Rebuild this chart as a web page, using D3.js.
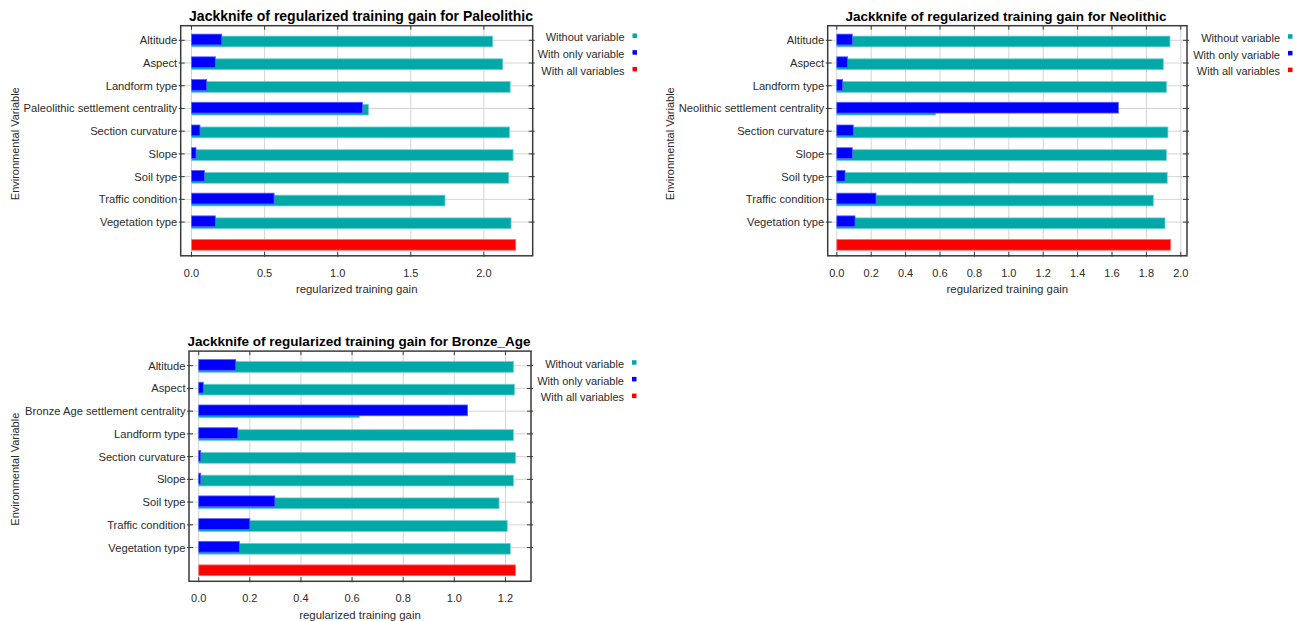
<!DOCTYPE html>
<html>
<head>
<meta charset="utf-8">
<script src="https://cdn.jsdelivr.net/npm/d3@7"></script>
<style>
  html, body { margin: 0; padding: 0; background: #ffffff; }
  svg { display: block; font-family: Arial, "Liberation Sans", sans-serif; }
</style>
</head>
<body>
<svg id="chart" width="1306" height="621"></svg>
<script>
// ---------------- data ----------------
const seriesNames = ["Without variable", "With only variable", "With all variables"];

const paleoTitle = "Jackknife of regularized training gain for Paleolithic";
const paleoVars = ["Altitude", "Aspect", "Landform type", "Paleolithic settlement centrality", "Section curvature", "Slope", "Soil type", "Traffic condition", "Vegetation type"];
const paleoWithout = [2.06, 2.129, 2.18, 1.21, 2.175, 2.20, 2.17, 1.734, 2.186];
const paleoOnly = [0.207, 0.163, 0.104, 1.17, 0.058, 0.031, 0.088, 0.565, 0.163];
const paleoAll = 2.218;
const paleoTicks = [0.0, 0.5, 1.0, 1.5, 2.0];

const neoTitle = "Jackknife of regularized training gain for Neolithic";
const neoVars = ["Altitude", "Aspect", "Landform type", "Neolithic settlement centrality", "Section curvature", "Slope", "Soil type", "Traffic condition", "Vegetation type"];
const neoWithout = [1.937, 1.898, 1.916, 0.575, 1.925, 1.916, 1.921, 1.84, 1.908];
const neoOnly = [0.09, 0.063, 0.034, 1.637, 0.096, 0.09, 0.048, 0.228, 0.106];
const neoAll = 1.941;
const neoTicks = [0.0, 0.2, 0.4, 0.6, 0.8, 1.0, 1.2, 1.4, 1.6, 1.8, 2.0];

const bronzeTitle = "Jackknife of regularized training gain for Bronze_Age";
const bronzeVars = ["Altitude", "Aspect", "Bronze Age settlement centrality", "Landform type", "Section curvature", "Slope", "Soil type", "Traffic condition", "Vegetation type"];
const bronzeWithout = [1.231, 1.235, 0.628, 1.231, 1.239, 1.231, 1.175, 1.207, 1.219];
const bronzeOnly = [0.145, 0.018, 1.052, 0.153, 0.008, 0.008, 0.298, 0.20, 0.159];
const bronzeAll = 1.239;
const bronzeTicks = [0.0, 0.2, 0.4, 0.6, 0.8, 1.0, 1.2];

const xLabel = "regularized training gain";
const yLabel = "Environmental Variable";

// ---------------- style ----------------
const COLORS = { without: "#00a8a8", only: "#0000ff", all: "#ff0000" };
const STROKES = { without: "#6fd0d0", only: "#6060ff", all: "#ff7070" };
const TEXT = "#2b2b2b";

// ---------------- layout ----------------
const panels = [
  { title: paleoTitle, vars: paleoVars, without: paleoWithout, only: paleoOnly, all: paleoAll, ticks: paleoTicks,
    left: 180.7, right: 532.7, top: 25.7, bottom: 255.8, domain: [-0.0739, 2.334],
    legendX: 624.5, legendY: 37.3, yLabelX: 19, titleCx: 361, titleSize: 14 },
  { title: neoTitle, vars: neoVars, without: neoWithout, only: neoOnly, all: neoAll, ticks: neoTicks,
    left: 827.7, right: 1187, top: 25.7, bottom: 255.8, domain: [-0.0529, 2.036],
    legendX: 1280, legendY: 38, yLabelX: 674, titleCx: 1006, titleSize: 13.5 },
  { title: bronzeTitle, vars: bronzeVars, without: bronzeWithout, only: bronzeOnly, all: bronzeAll, ticks: bronzeTicks,
    left: 189, right: 531, top: 351.1, bottom: 581.3, domain: [-0.038, 1.3],
    legendX: 624, legendY: 364, yLabelX: 19, titleCx: 359, titleSize: 13.5 }
];

const svg = d3.select("#chart");

panels.forEach(p => {
  const g = svg.append("g");
  const rows = p.vars.concat(["__all__"]);
  const x = d3.scaleLinear().domain(p.domain).range([p.left, p.right]);
  const y = d3.scalePoint().domain(rows).range([p.top + 14.6, p.bottom - 11]);
  const barH = 10.8;

  // grid
  g.append("g").selectAll("line").data(p.ticks).join("line")
    .attr("x1", d => x(d)).attr("x2", d => x(d))
    .attr("y1", p.top).attr("y2", p.bottom)
    .attr("stroke", "#d4d4d4").attr("stroke-width", 1);
  g.append("g").selectAll("line").data(p.vars).join("line")
    .attr("x1", p.left).attr("x2", p.right)
    .attr("y1", d => y(d)).attr("y2", d => y(d))
    .attr("stroke", "#d4d4d4").attr("stroke-width", 1);

  // bars: without variable (teal), then with only variable (blue) on top
  const withoutData = p.vars.map((v, i) => ({ v, val: p.without[i] }));
  const onlyData = p.vars.map((v, i) => ({ v, val: p.only[i] }));

  g.append("g").selectAll("rect").data(withoutData).join("rect")
    .attr("x", x(0)).attr("y", d => y(d.v) - barH / 2 + 1.2)
    .attr("width", d => x(d.val) - x(0)).attr("height", barH)
    .attr("fill", COLORS.without).attr("stroke", STROKES.without).attr("stroke-width", 0.8);
  g.append("g").selectAll("rect").data(onlyData).join("rect")
    .attr("x", x(0)).attr("y", d => y(d.v) - barH / 2 - 0.8)
    .attr("width", d => Math.max(1, x(d.val) - x(0))).attr("height", barH)
    .attr("fill", COLORS.only).attr("stroke", STROKES.only).attr("stroke-width", 0.8);
  g.append("rect")
    .attr("x", x(0)).attr("y", y("__all__") - barH / 2)
    .attr("width", x(p.all) - x(0)).attr("height", barH)
    .attr("fill", COLORS.all).attr("stroke", STROKES.all).attr("stroke-width", 0.8);

  // frame
  g.append("rect")
    .attr("x", p.left).attr("y", p.top)
    .attr("width", p.right - p.left).attr("height", p.bottom - p.top)
    .attr("fill", "none").attr("stroke", "#3a3a3a").attr("stroke-width", 1.5);

  // ticks: left & right (category), top & bottom (value)
  const tk = g.append("g").attr("stroke", "#3a3a3a").attr("stroke-width", 1);
  p.vars.forEach(v => {
    tk.append("line").attr("x1", p.left - 2).attr("x2", p.left + 4).attr("y1", y(v)).attr("y2", y(v));
    tk.append("line").attr("x1", p.right - 4).attr("x2", p.right + 2).attr("y1", y(v)).attr("y2", y(v));
  });
  p.ticks.forEach(t => {
    tk.append("line").attr("x1", x(t)).attr("x2", x(t)).attr("y1", p.top).attr("y2", p.top + 4);
    tk.append("line").attr("x1", x(t)).attr("x2", x(t)).attr("y1", p.bottom - 4).attr("y2", p.bottom + 1);
  });

  // category labels
  g.append("g").selectAll("text").data(p.vars).join("text")
    .attr("x", p.left - 3.5).attr("y", d => y(d) + 4)
    .attr("text-anchor", "end").attr("font-size", "11.2px").attr("fill", TEXT)
    .text(d => d);

  // x tick labels
  g.append("g").selectAll("text").data(p.ticks).join("text")
    .attr("x", d => x(d)).attr("y", p.bottom + 21)
    .attr("text-anchor", "middle").attr("font-size", "11px").attr("fill", TEXT)
    .text(d => d3.format(".1f")(d));

  // axis titles
  g.append("text")
    .attr("x", (p.left + p.right) / 2).attr("y", p.bottom + 37.5)
    .attr("text-anchor", "middle").attr("font-size", "11.4px").attr("fill", TEXT)
    .text(xLabel);
  g.append("text")
    .attr("transform", `translate(${p.yLabelX},${(p.top + p.bottom) / 2 + 3}) rotate(-90)`)
    .attr("text-anchor", "middle").attr("font-size", "11px").attr("fill", TEXT)
    .text(yLabel);

  // chart title
  g.append("text")
    .attr("x", p.titleCx).attr("y", p.top - 5)
    .attr("text-anchor", "middle").attr("font-size", p.titleSize + "px").attr("font-weight", "bold").attr("fill", "#000")
    .text(p.title);

  // legend
  const legendColors = [COLORS.without, COLORS.only, COLORS.all];
  seriesNames.forEach((s, i) => {
    const ly = p.legendY + i * 16.7;
    g.append("text")
      .attr("x", p.legendX).attr("y", ly + 4)
      .attr("text-anchor", "end").attr("font-size", "11px").attr("fill", TEXT)
      .text(s);
    g.append("rect")
      .attr("x", p.legendX + 8).attr("y", ly - 3.8)
      .attr("width", 4.5).attr("height", 4.5)
      .attr("fill", legendColors[i]);
  });
});
</script>
</body>
</html>
